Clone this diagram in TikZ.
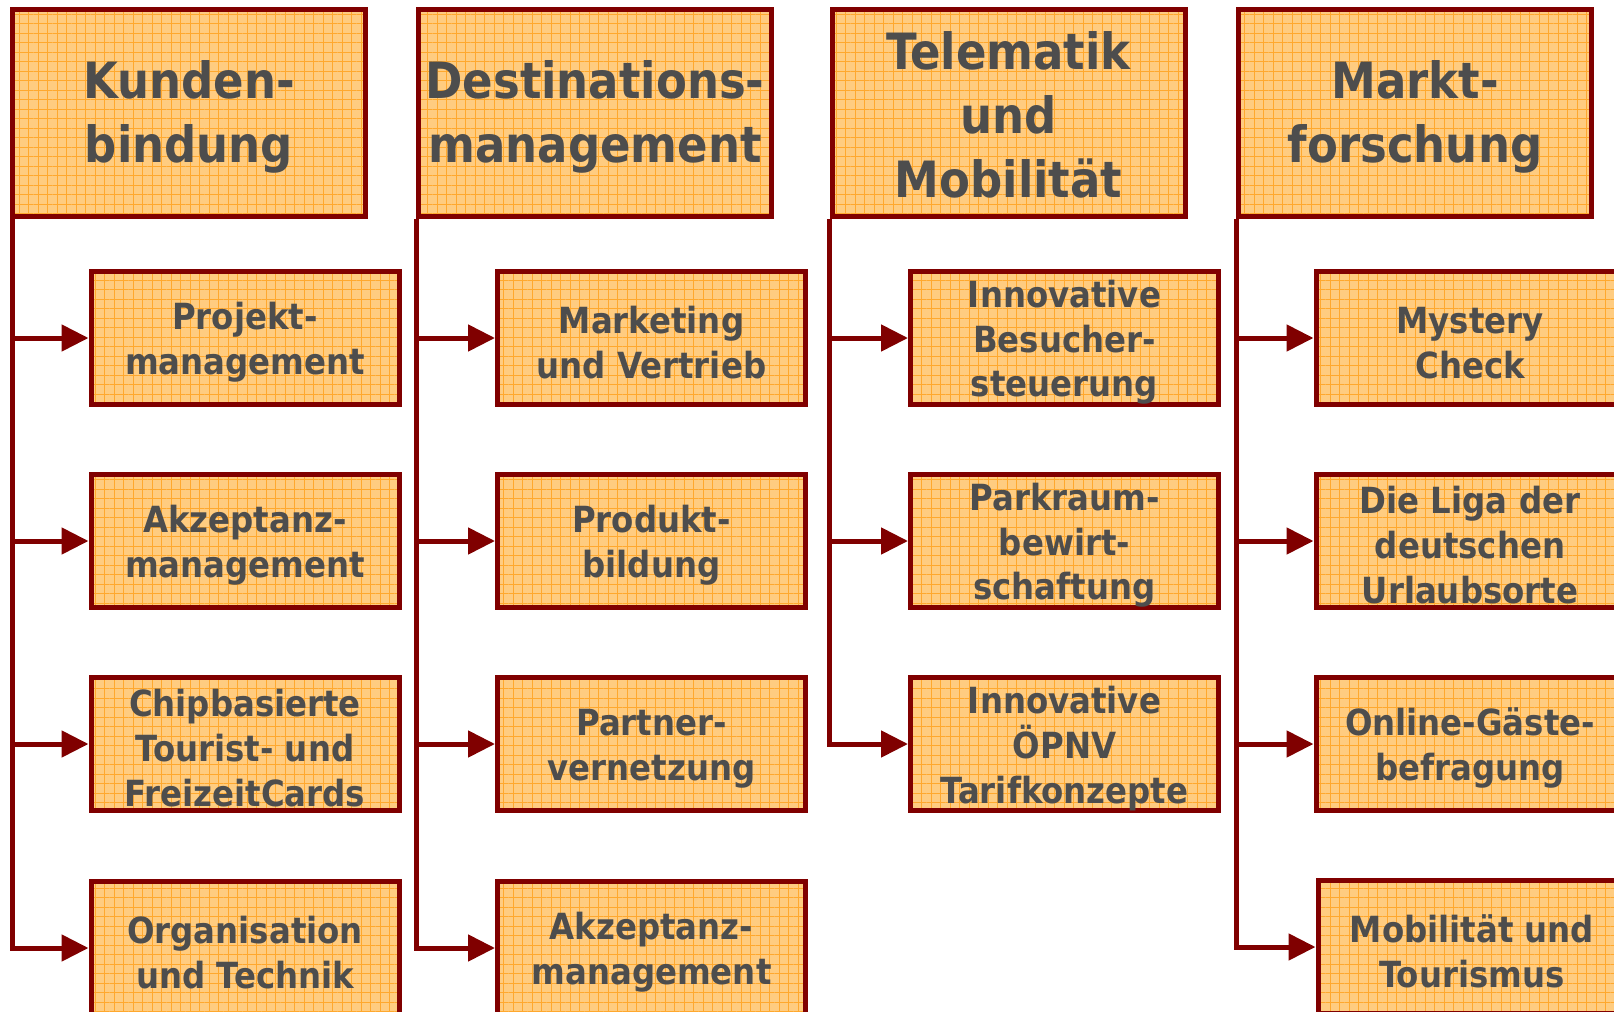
\documentclass[tikz,border=0pt]{standalone}
\usepackage{fontspec}
\setmainfont{DejaVu Sans Condensed}
\usetikzlibrary{arrows.meta,patterns.meta}
\definecolor{darkframe}{HTML}{800000}
\definecolor{boxfill}{HTML}{FFCC80}
\definecolor{gridline}{HTML}{FFA82E}
\definecolor{boxtext}{HTML}{4D4D4D}
% struts that push the first line down a little
\newcommand\toplift{\rule{0pt}{23pt}}
\newcommand\sublift{\rule{0pt}{18pt}}
\begin{document}
\begin{tikzpicture}[x=0.5pt, y=-0.5pt,
		topbox/.style={rectangle, draw=darkframe, line width=2.5pt,
			preaction={fill=boxfill},
			pattern={Hatch[angle=0, distance=4.75pt, line width=0.5pt]}, pattern color=gridline,
			minimum width=176.5pt, minimum height=103.5pt, inner sep=0pt,
			align=center, text=boxtext, font=\fontsize{25}{32}\selectfont\bfseries},
		subbox/.style={topbox, minimum width=154pt, minimum height=66.5pt,
			font=\fontsize{18}{22.4}\selectfont\bfseries},
		link/.style={draw=darkframe, line width=2.5pt,
			-{Triangle[length=13.5pt, width=13pt]}}]
		\useasboundingbox (0,0) rectangle (1614,1012);
		\clip (0,0) rectangle (1614,1012);
		
		% Kundenbindung
		\node[topbox] (kb) at (189,113) {\toplift Kunden-\\bindung};
		\node[subbox] (kb1) at (245,338) {\sublift Projekt-\\management};
		\node[subbox] (kb2) at (245,541) {\sublift Akzeptanz-\\management};
		\node[subbox] (kb3) at (245,744) {\sublift Chipbasierte\\Tourist- und\\FreizeitCards};
		\node[subbox] (kb4) at (245,948) {\sublift Organisation\\und Technik};
		\draw[link] (kb.south west) |- (kb4.west);
		\draw[link] (kb.south west |- kb1.west) -- (kb1.west);
		\draw[link] (kb.south west |- kb2.west) -- (kb2.west);
		\draw[link] (kb.south west |- kb3.west) -- (kb3.west);
		
		% Destinationsmanagement
		\node[topbox] (dm) at (595,113) {\toplift Destinations-\\management};
		\node[subbox] (dm1) at (651.5,338) {\sublift Marketing\\und Vertrieb};
		\node[subbox] (dm2) at (651.5,541) {\sublift Produkt-\\bildung};
		\node[subbox] (dm3) at (651.5,744) {\sublift Partner-\\vernetzung};
		\node[subbox] (dm4) at (651.5,948) {\sublift Akzeptanz-\\management};
		\draw[link] (dm.south west) |- (dm4.west);
		\draw[link] (dm.south west |- dm1.west) -- (dm1.west);
		\draw[link] (dm.south west |- dm2.west) -- (dm2.west);
		\draw[link] (dm.south west |- dm3.west) -- (dm3.west);
		
		% Telematik und Mobilitaet
		\node[topbox] (tm) at (1008.5,113) {\rule{0pt}{21pt}Telematik\\und\\Mobilität};
		\node[subbox] (tm1) at (1064.5,338) {\sublift Innovative\\Besucher-\\steuerung};
		\node[subbox] (tm2) at (1064.5,541) {\sublift Parkraum-\\bewirt-\\schaftung};
		\node[subbox] (tm3) at (1064.5,744) {\sublift Innovative\\ÖPNV\\Tarifkonzepte};
		\draw[link] (tm.south west) |- (tm3.west);
		\draw[link] (tm.south west |- tm1.west) -- (tm1.west);
		\draw[link] (tm.south west |- tm2.west) -- (tm2.west);
		
		% Marktforschung
		\node[topbox] (mf) at (1415,113) {\toplift Markt-\\forschung};
		\node[subbox] (mf1) at (1470,338) {\sublift Mystery\\Check};
		\node[subbox] (mf2) at (1470,541) {\sublift Die Liga der\\deutschen\\Urlaubsorte};
		\node[subbox] (mf3) at (1470,744) {\sublift Online-Gäste-\\befragung};
		\node[subbox] (mf4) at (1472,947) {\sublift Mobilität und\\Tourismus};
		\draw[link] (mf.south west) |- (mf4.west);
		\draw[link] (mf.south west |- mf1.west) -- (mf1.west);
		\draw[link] (mf.south west |- mf2.west) -- (mf2.west);
		\draw[link] (mf.south west |- mf3.west) -- (mf3.west);
	\end{tikzpicture}
\end{document}
